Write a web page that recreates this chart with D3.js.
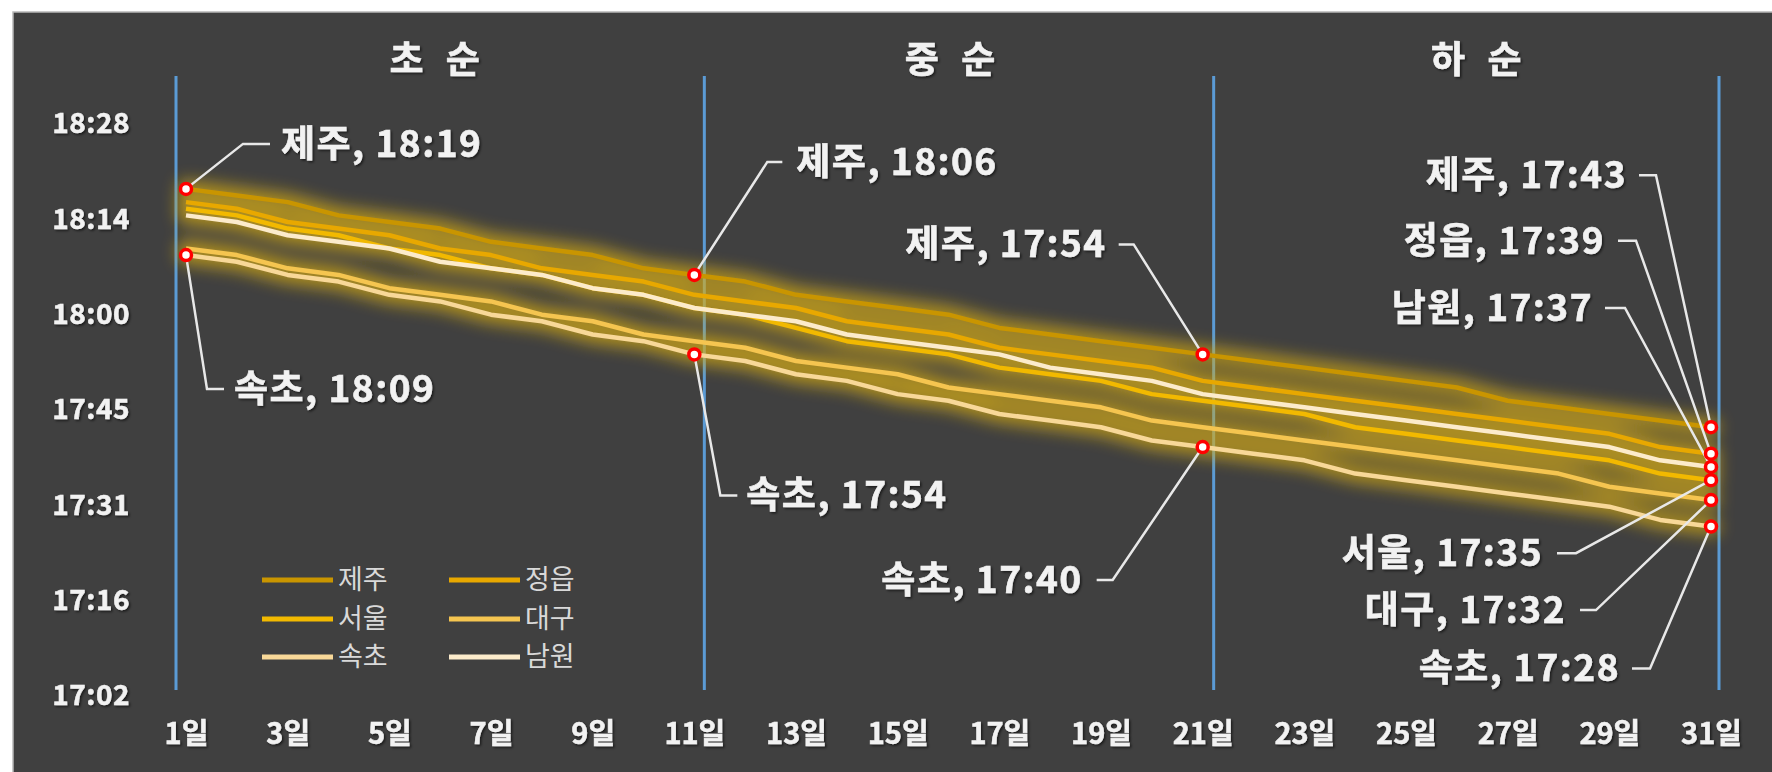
<!DOCTYPE html>
<html><head><meta charset="utf-8">
<script src="https://cdn.jsdelivr.net/npm/d3@7"></script>
<style>
html,body{margin:0;padding:0;background:#fff;}
svg{display:block;}
text{font-family:"Noto Sans CJK KR","Noto Sans",sans-serif;}
</style></head><body>
<svg id="chart" width="1772" height="772"></svg>
<script>
// ---------------- data ----------------
const days = [1,2,3,4,5,6,7,8,9,10,11,12,13,14,15,16,17,18,19,20,21,22,23,24,25,26,27,28,29,30,31];
const dayLabels = ["1일","3일","5일","7일","9일","11일","13일","15일","17일","19일","21일","23일","25일","27일","29일","31일"];
const labelDays = [1,3,5,7,9,11,13,15,17,19,21,23,25,27,29,31];
const sectionTitles = ["초 순","중 순","하 순"];
const yTickLabels = ["17:02","17:16","17:31","17:45","18:00","18:14","18:28"];
const yTickDayFractions = [0.71,0.72,0.73,0.74,0.75,0.76,0.77];

const seriesNames = ["제주","정읍","서울","대구","속초","남원"];
const jeju = ["18:19","18:18","18:17","18:15","18:14","18:13","18:11","18:10","18:09","18:07","18:06","18:05","18:03","18:02","18:01","18:00","17:58","17:57","17:56","17:55","17:54","17:53","17:52","17:51","17:50","17:49","17:47","17:46","17:45","17:44","17:43"];
const jeongeup = ["18:17","18:16","18:14","18:13","18:12","18:10","18:09","18:07","18:06","18:05","18:03","18:02","18:01","17:59","17:58","17:57","17:55","17:54","17:53","17:52","17:50","17:49","17:48","17:47","17:46","17:45","17:44","17:43","17:42","17:40","17:39"];
const seoul = ["18:16","18:15","18:13","18:12","18:10","18:09","18:07","18:06","18:04","18:03","18:01","18:00","17:58","17:56","17:55","17:54","17:52","17:51","17:50","17:48","17:47","17:46","17:45","17:43","17:42","17:41","17:40","17:39","17:38","17:36","17:35"];
const daegu = ["18:10","18:09","18:07","18:06","18:04","18:03","18:02","18:00","17:59","17:57","17:56","17:55","17:53","17:52","17:51","17:49","17:48","17:47","17:46","17:44","17:43","17:42","17:41","17:40","17:39","17:38","17:37","17:36","17:34","17:33","17:32"];
const sokcho = ["18:09","18:08","18:06","18:05","18:03","18:02","18:00","17:59","17:57","17:56","17:54","17:53","17:51","17:50","17:48","17:47","17:45","17:44","17:43","17:41","17:40","17:39","17:38","17:36","17:35","17:34","17:33","17:32","17:31","17:29","17:28"];
const namwon = ["18:15","18:14","18:12","18:11","18:10","18:08","18:07","18:06","18:04","18:03","18:01","18:00","17:59","17:57","17:56","17:55","17:54","17:52","17:51","17:50","17:48","17:47","17:46","17:45","17:44","17:43","17:42","17:41","17:40","17:38","17:37"];
const seriesValues = [jeju, jeongeup, seoul, daegu, sokcho, namwon];

// ---------------- styles / layout ----------------
const seriesColors = ["#c99500","#e8a800","#f2b900","#f5c550","#f8d898","#fcebcb"];
const W = 1772, H = 772;
const toMin = s => { const [h,m] = s.split(":").map(Number); return h*60+m; };

const svg = d3.select("#chart");
const defs = svg.append("defs");
defs.append("filter").attr("id","glow").attr("x","-20%").attr("y","-60%").attr("width","140%").attr("height","220%")
  .append("feGaussianBlur").attr("stdDeviation",8);
const ts = defs.append("filter").attr("id","tshadow").attr("x","-10%").attr("y","-30%").attr("width","120%").attr("height","160%");
ts.append("feDropShadow").attr("dx",1.5).attr("dy",1.5).attr("stdDeviation",1.2).attr("flood-color","#000").attr("flood-opacity",0.6);

// background panel
svg.append("rect").attr("x",13).attr("y",12).attr("width",W).attr("height",H)
  .attr("fill","#404040").attr("stroke","#b8b8b8").attr("stroke-width",1.5);

const x = d3.scaleLinear().domain([1,31]).range([186,1711]);
const y = d3.scaleLinear().domain([0.71*1440, 0.77*1440]).range([696,124]);

// divider lines
const dividers = [{day:1,off:-10},{day:11,off:10},{day:21,off:11},{day:31,off:8}];
svg.append("g").selectAll("line").data(dividers).join("line")
  .attr("x1",d=>x(d.day)+d.off).attr("x2",d=>x(d.day)+d.off)
  .attr("y1",76).attr("y2",690)
  .attr("stroke","#5b9bd5").attr("stroke-width",3);

// section titles
const titlePos = [(x(1)+x(11))/2-2,(x(11)+x(21))/2+5,(x(21)+x(31))/2+23];
svg.append("g").selectAll("text").data(sectionTitles).join("text")
  .attr("x",(d,i)=>titlePos[i]).attr("y",60).attr("dy","0.35em")
  .attr("text-anchor","middle").attr("font-size",37).attr("font-weight","bold")
  .attr("fill","#f2f2f2").attr("stroke","#f2f2f2").attr("stroke-width",0.6)
  .attr("filter","url(#tshadow)").attr("letter-spacing",7)
  .text(d=>d);

// axes
const yAxis = d3.axisLeft(y).tickValues(yTickDayFractions.map(v=>v*1440))
  .tickFormat((d,i)=>yTickLabels[i]).tickSize(0).tickPadding(0);
const gy = svg.append("g").attr("transform","translate(130,0)").call(yAxis);
gy.select(".domain").remove();
gy.selectAll("text").attr("font-size",28).attr("font-weight","bold").attr("fill","#f2f2f2")
  .attr("stroke","#f2f2f2").attr("stroke-width",0.5).attr("letter-spacing",0.5)
  .attr("font-family","'Noto Sans CJK KR',sans-serif").attr("filter","url(#tshadow)");

const xAxis = d3.axisBottom(x).tickValues(labelDays).tickFormat((d,i)=>dayLabels[i]).tickSize(0).tickPadding(0);
const gx = svg.append("g").attr("transform","translate(0,723)").call(xAxis);
gx.select(".domain").remove();
gx.selectAll("text").attr("font-size",29).attr("font-weight","bold").attr("fill","#f2f2f2")
  .attr("stroke","#f2f2f2").attr("stroke-width",0.5)
  .attr("font-family","'Noto Sans CJK KR',sans-serif").attr("filter","url(#tshadow)");

// lines
const series = seriesNames.map((n,i)=>({name:n,color:seriesColors[i],values:seriesValues[i].map((v,j)=>({day:days[j],t:toMin(v),s:v}))}));
const line = d3.line().x(d=>x(d.day)).y(d=>y(d.t));

svg.append("g").attr("filter","url(#glow)").attr("opacity",0.7).selectAll("path").data(series).join("path")
  .attr("d",d=>line(d.values)).attr("fill","none").attr("stroke","#d8ad12").attr("stroke-width",18)
  .attr("stroke-linejoin","round").attr("stroke-linecap","round");
svg.append("g").selectAll("path").data(series).join("path")
  .attr("d",d=>line(d.values)).attr("fill","none").attr("stroke",d=>d.color).attr("stroke-width",4.5)
  .attr("stroke-linejoin","round");

// annotations (layout offsets relative to the marked point)
const annotations = [
  {name:"제주",day:1, ex:57, ey:-45, hx:84, tx:95, anchor:"start"},
  {name:"속초",day:1, ex:21, ey:134, hx:38, tx:48, anchor:"start"},
  {name:"제주",day:11,ex:73, ey:-113,hx:88, tx:102,anchor:"start"},
  {name:"속초",day:11,ex:26, ey:141, hx:43, tx:52, anchor:"start"},
  {name:"제주",day:21,ex:-69,ey:-110,hx:-84,tx:-96,anchor:"end"},
  {name:"속초",day:21,ex:-90,ey:133, hx:-106,tx:-120,anchor:"end"},
  {name:"제주",day:31,ex:-55,ey:-252,hx:-72,tx:-84,anchor:"end"},
  {name:"정읍",day:31,ex:-75,ey:-213,hx:-93,tx:-106,anchor:"end"},
  {name:"남원",day:31,ex:-86,ey:-159,hx:-106,tx:-118,anchor:"end"},
  {name:"서울",day:31,ex:-135,ey:73, hx:-154,tx:-168,anchor:"end"},
  {name:"대구",day:31,ex:-115,ey:110, hx:-131,tx:-145,anchor:"end"},
  {name:"속초",day:31,ex:-61,ey:142, hx:-79,tx:-91,anchor:"end"}
];
const ann = annotations.map(a=>{
  const s = series.find(s=>s.name===a.name);
  const v = s.values.find(v=>v.day===a.day);
  return {...a, px:x(v.day), py:y(v.t), label:`${a.name}, ${v.s}`};
});
const ga = svg.append("g");
ga.selectAll("path").data(ann).join("path")
  .attr("d",d=>`M${d.px},${d.py}L${d.px+d.ex},${d.py+d.ey}L${d.px+d.hx},${d.py+d.ey}`)
  .attr("fill","none").attr("stroke","#e8e8e8").attr("stroke-width",2.5);
ga.selectAll("circle").data(ann).join("circle")
  .attr("cx",d=>d.px).attr("cy",d=>d.py).attr("r",5.5)
  .attr("fill","#fff").attr("stroke","#ff0000").attr("stroke-width",3.5);
ga.selectAll("text").data(ann).join("text")
  .attr("x",d=>d.px+d.tx).attr("y",d=>d.py+d.ey).attr("dy","0.35em")
  .attr("text-anchor",d=>d.anchor).attr("font-size",37).attr("font-weight","bold")
  .attr("letter-spacing",1.5).attr("stroke","#f2f2f2").attr("stroke-width",0.6)
  .attr("fill","#f2f2f2").attr("filter","url(#tshadow)")
  .text(d=>d.label);

// legend
const legendCols = [262,449], legendRows = [580,619,657];
const lg = svg.append("g").selectAll("g").data(series).join("g")
  .attr("transform",(d,i)=>`translate(${legendCols[i%2]},${legendRows[Math.floor(i/2)]})`);
lg.append("line").attr("x1",0).attr("x2",71).attr("stroke",d=>d.color).attr("stroke-width",5);
lg.append("text").attr("x",76).attr("dy","0.35em").attr("font-size",27).attr("fill","#d9d9d9").text(d=>d.name);
</script>
</body></html>
